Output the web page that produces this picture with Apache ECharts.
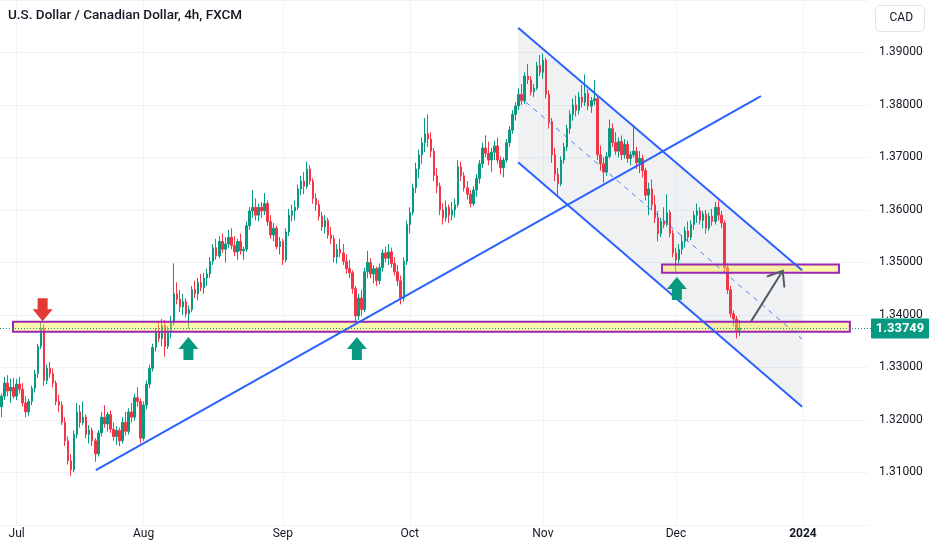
<!DOCTYPE html>
<html lang="en">
<head>
<meta charset="utf-8" />
<title>USD/CAD 4h</title>
<style>
  html, body { margin: 0; padding: 0; background: #fff; }
  #chart { width: 932px; height: 550px; }
</style>
</head>
<body>
<div id="chart"></div>
<script src="https://cdn.jsdelivr.net/npm/echarts@6/dist/echarts.min.js"></script>
<script>
// candles, one per half trading day, rows are [open, high, low, close]
const junBars = [
  [1.3225,1.3250,1.3205,1.3245],[1.3245,1.3282,1.3238,1.3270],[1.3270,1.3285,1.3245,1.3255],
  [1.3255,1.3278,1.3232,1.3262],[1.3262,1.3280,1.3240,1.3245]
];
const julBars = [
  [1.3245,1.3278,1.3238,1.3268],[1.3268,1.3282,1.3250,1.3258],[1.3258,1.3270,1.3225,1.3232],
  [1.3232,1.3245,1.3205,1.3215],[1.3215,1.3240,1.3208,1.3235],[1.3235,1.3265,1.3228,1.3260],
  [1.3260,1.3295,1.3252,1.3288],[1.3288,1.3345,1.3280,1.3340],[1.3340,1.3387,1.3335,1.3375],
  [1.3375,1.3382,1.3265,1.3275],[1.3275,1.3305,1.3268,1.3298],[1.3298,1.3310,1.3280,1.3288],
  [1.3288,1.3298,1.3262,1.3270],[1.3270,1.3275,1.3228,1.3235],[1.3235,1.3248,1.3215,1.3228],
  [1.3228,1.3235,1.3190,1.3195],[1.3195,1.3205,1.3150,1.3160],[1.3160,1.3168,1.3115,1.3122],
  [1.3122,1.3135,1.3093,1.3105],[1.3105,1.3180,1.3100,1.3172],[1.3172,1.3232,1.3165,1.3215],
  [1.3215,1.3228,1.3185,1.3195],[1.3195,1.3235,1.3190,1.3205],[1.3205,1.3210,1.3165,1.3172],
  [1.3172,1.3190,1.3155,1.3180],[1.3180,1.3185,1.3150,1.3160],[1.3160,1.3165,1.3120,1.3135],
  [1.3135,1.3180,1.3130,1.3175],[1.3175,1.3215,1.3168,1.3205],[1.3205,1.3228,1.3185,1.3192],
  [1.3192,1.3215,1.3178,1.3210],[1.3210,1.3218,1.3175,1.3182],[1.3182,1.3195,1.3160,1.3168],
  [1.3168,1.3188,1.3152,1.3180],[1.3180,1.3185,1.3150,1.3160],[1.3160,1.3205,1.3155,1.3195],
  [1.3195,1.3215,1.3170,1.3178],[1.3178,1.3222,1.3172,1.3215],[1.3215,1.3232,1.3195,1.3205],
  [1.3205,1.3250,1.3198,1.3242],[1.3242,1.3262,1.3225,1.3235],[1.3235,1.3240,1.3155,1.3165]
];
const augBars = [
  [1.3165,1.3235,1.3160,1.3228],[1.3228,1.3275,1.3220,1.3268],[1.3268,1.3305,1.3260,1.3298],
  [1.3298,1.3345,1.3292,1.3338],[1.3338,1.3375,1.3330,1.3368],[1.3368,1.3388,1.3348,1.3355],
  [1.3355,1.3392,1.3340,1.3380],[1.3380,1.3390,1.3320,1.3340],[1.3340,1.3378,1.3335,1.3370],
  [1.3370,1.3398,1.3355,1.3385],[1.3385,1.3498,1.3380,1.3440],[1.3440,1.3462,1.3420,1.3430],
  [1.3430,1.3448,1.3405,1.3415],[1.3415,1.3440,1.3400,1.3425],[1.3425,1.3432,1.3395,1.3402],
  [1.3402,1.3418,1.3373,1.3410],[1.3410,1.3455,1.3405,1.3448],[1.3448,1.3465,1.3432,1.3440],
  [1.3440,1.3470,1.3428,1.3462],[1.3462,1.3478,1.3445,1.3452],[1.3452,1.3480,1.3440,1.3470],
  [1.3470,1.3488,1.3455,1.3478],[1.3478,1.3510,1.3470,1.3502],[1.3502,1.3535,1.3495,1.3528],
  [1.3528,1.3545,1.3505,1.3512],[1.3512,1.3550,1.3508,1.3540],[1.3540,1.3555,1.3518,1.3525],
  [1.3525,1.3548,1.3500,1.3535],[1.3535,1.3562,1.3528,1.3548],[1.3548,1.3565,1.3525,1.3532],
  [1.3532,1.3550,1.3512,1.3520],[1.3520,1.3545,1.3505,1.3540],[1.3540,1.3555,1.3515,1.3522],
  [1.3522,1.3530,1.3505,1.3525],[1.3525,1.3578,1.3520,1.3570],[1.3570,1.3605,1.3562,1.3598],
  [1.3598,1.3638,1.3585,1.3605],[1.3605,1.3622,1.3580,1.3590],[1.3590,1.3612,1.3578,1.3605],
  [1.3605,1.3615,1.3585,1.3598],[1.3598,1.3632,1.3590,1.3612],[1.3612,1.3618,1.3570,1.3578],
  [1.3578,1.3590,1.3545,1.3552],[1.3552,1.3575,1.3540,1.3565],[1.3565,1.3570,1.3525,1.3530],
  [1.3530,1.3548,1.3515,1.3540]
];
const sepBars = [
  [1.3540,1.3545,1.3495,1.3505],[1.3505,1.3565,1.3500,1.3558],[1.3558,1.3602,1.3550,1.3590],
  [1.3590,1.3610,1.3578,1.3598],[1.3598,1.3618,1.3580,1.3605],[1.3605,1.3648,1.3600,1.3640],
  [1.3640,1.3665,1.3628,1.3655],[1.3655,1.3672,1.3630,1.3645],[1.3645,1.3692,1.3640,1.3678],
  [1.3678,1.3685,1.3648,1.3655],[1.3655,1.3660,1.3612,1.3622],[1.3622,1.3632,1.3598,1.3610],
  [1.3610,1.3618,1.3580,1.3588],[1.3588,1.3596,1.3560,1.3568],[1.3568,1.3590,1.3555,1.3580],
  [1.3580,1.3585,1.3545,1.3552],[1.3552,1.3568,1.3535,1.3545],[1.3545,1.3552,1.3500,1.3510],
  [1.3510,1.3535,1.3498,1.3525],[1.3525,1.3545,1.3510,1.3518],[1.3518,1.3535,1.3495,1.3502],
  [1.3502,1.3515,1.3478,1.3488],[1.3488,1.3505,1.3470,1.3480],[1.3480,1.3485,1.3440,1.3450],
  [1.3450,1.3455,1.3384,1.3398],[1.3398,1.3440,1.3390,1.3432],[1.3432,1.3448,1.3398,1.3410],
  [1.3410,1.3490,1.3405,1.3482],[1.3482,1.3522,1.3470,1.3500],[1.3500,1.3508,1.3470,1.3478],
  [1.3478,1.3495,1.3460,1.3488],[1.3488,1.3492,1.3455,1.3465],[1.3465,1.3498,1.3458,1.3490],
  [1.3490,1.3525,1.3482,1.3518],[1.3518,1.3530,1.3500,1.3508],[1.3508,1.3535,1.3495,1.3520],
  [1.3520,1.3528,1.3490,1.3498],[1.3498,1.3510,1.3475,1.3482],[1.3482,1.3495,1.3455,1.3465],
  [1.3465,1.3475,1.3420,1.3432],[1.3432,1.3510,1.3425,1.3502],[1.3502,1.3580,1.3495,1.3572]
];
const octBars = [
  [1.3572,1.3605,1.3555,1.3595],[1.3595,1.3650,1.3590,1.3642],[1.3642,1.3690,1.3632,1.3678],
  [1.3678,1.3715,1.3660,1.3705],[1.3705,1.3738,1.3688,1.3728],[1.3728,1.3775,1.3710,1.3745],
  [1.3745,1.3782,1.3720,1.3735],[1.3735,1.3748,1.3700,1.3712],[1.3712,1.3718,1.3655,1.3665],
  [1.3665,1.3680,1.3632,1.3645],[1.3645,1.3652,1.3590,1.3600],[1.3600,1.3612,1.3572,1.3585],
  [1.3585,1.3618,1.3578,1.3605],[1.3605,1.3610,1.3575,1.3590],[1.3590,1.3615,1.3580,1.3600],
  [1.3600,1.3622,1.3585,1.3610],[1.3610,1.3695,1.3605,1.3682],[1.3682,1.3692,1.3655,1.3665],
  [1.3665,1.3672,1.3635,1.3642],[1.3642,1.3655,1.3620,1.3630],[1.3630,1.3638,1.3605,1.3612],
  [1.3612,1.3645,1.3608,1.3638],[1.3638,1.3668,1.3625,1.3660],[1.3660,1.3695,1.3650,1.3688],
  [1.3688,1.3728,1.3680,1.3718],[1.3718,1.3742,1.3700,1.3708],[1.3708,1.3730,1.3685,1.3695],
  [1.3695,1.3718,1.3672,1.3710],[1.3710,1.3732,1.3695,1.3722],[1.3722,1.3738,1.3688,1.3695],
  [1.3695,1.3702,1.3668,1.3680],[1.3680,1.3700,1.3662,1.3695],[1.3695,1.3735,1.3690,1.3728],
  [1.3728,1.3760,1.3720,1.3752],[1.3752,1.3790,1.3745,1.3782],[1.3782,1.3805,1.3770,1.3798],
  [1.3798,1.3832,1.3790,1.3820],[1.3820,1.3840,1.3800,1.3808],[1.3808,1.3862,1.3802,1.3855],
  [1.3855,1.3878,1.3840,1.3848],[1.3848,1.3855,1.3818,1.3825],[1.3825,1.3840,1.3815,1.3832],
  [1.3832,1.3882,1.3828,1.3875],[1.3875,1.3895,1.3855,1.3862]
];
const novBars = [
  [1.3862,1.3898,1.3850,1.3885],[1.3885,1.3890,1.3812,1.3820],[1.3820,1.3828,1.3755,1.3768],
  [1.3768,1.3775,1.3690,1.3705],[1.3705,1.3718,1.3655,1.3668],[1.3668,1.3680,1.3628,1.3650],
  [1.3650,1.3702,1.3645,1.3695],[1.3695,1.3728,1.3688,1.3720],[1.3720,1.3762,1.3712,1.3755],
  [1.3755,1.3790,1.3745,1.3782],[1.3782,1.3812,1.3770,1.3800],[1.3800,1.3818,1.3778,1.3790],
  [1.3790,1.3825,1.3782,1.3815],[1.3815,1.3838,1.3795,1.3805],[1.3805,1.3858,1.3798,1.3822],
  [1.3822,1.3830,1.3790,1.3798],[1.3798,1.3815,1.3785,1.3808],[1.3808,1.3848,1.3800,1.3812],
  [1.3812,1.3818,1.3695,1.3705],[1.3705,1.3722,1.3675,1.3688],[1.3688,1.3700,1.3652,1.3672],
  [1.3672,1.3710,1.3665,1.3702],[1.3702,1.3772,1.3698,1.3755],[1.3755,1.3765,1.3720,1.3728],
  [1.3728,1.3748,1.3705,1.3712],[1.3712,1.3738,1.3700,1.3730],[1.3730,1.3742,1.3695,1.3705],
  [1.3705,1.3735,1.3698,1.3725],[1.3725,1.3732,1.3690,1.3698],[1.3698,1.3712,1.3685,1.3705],
  [1.3705,1.3762,1.3700,1.3712],[1.3712,1.3720,1.3678,1.3690],[1.3690,1.3712,1.3670,1.3698],
  [1.3698,1.3705,1.3662,1.3675],[1.3675,1.3680,1.3618,1.3628],[1.3628,1.3652,1.3590,1.3640],
  [1.3640,1.3658,1.3600,1.3610],[1.3610,1.3628,1.3575,1.3585],[1.3585,1.3598,1.3540,1.3555],
  [1.3555,1.3585,1.3548,1.3578],[1.3578,1.3605,1.3565,1.3572],[1.3572,1.3630,1.3568,1.3595],
  [1.3595,1.3600,1.3548,1.3555],[1.3555,1.3562,1.3510,1.3518]
];
const decBars = [
  [1.3518,1.3528,1.3482,1.3505],[1.3505,1.3535,1.3498,1.3525],[1.3525,1.3552,1.3515,1.3540],
  [1.3540,1.3568,1.3528,1.3560],[1.3560,1.3578,1.3540,1.3548],[1.3548,1.3580,1.3542,1.3572],
  [1.3572,1.3598,1.3562,1.3590],[1.3590,1.3612,1.3575,1.3598],[1.3598,1.3605,1.3572,1.3580],
  [1.3580,1.3598,1.3565,1.3592],[1.3592,1.3600,1.3555,1.3565],[1.3565,1.3595,1.3560,1.3588],
  [1.3588,1.3602,1.3570,1.3578],[1.3578,1.3615,1.3572,1.3605],[1.3605,1.3618,1.3580,1.3590],
  [1.3590,1.3598,1.3565,1.3575],[1.3575,1.3580,1.3480,1.3490],[1.3490,1.3498,1.3440,1.3448],
  [1.3448,1.3455,1.3395,1.3402],[1.3402,1.3408,1.3378,1.3392],[1.3392,1.3398,1.3355,1.3368],
  [1.3368,1.3390,1.3360,1.33749]
];

// drawings, in [bar index, price]
const supportZones = [[3.8, 280.5, 1.3387, 1.3368], [218.4, 276.9, 1.3496, 1.3480]];
const trendLine = [[31.2, 1.3104], [251.1, 1.3817]];
const channelTop = [[170.8, 1.3947], [264.7, 1.3485]];
const channelMid = [[170.8, 1.3818], [264.7, 1.3354]];
const channelBottom = [[170.8, 1.3691], [264.7, 1.3225]];
const sellMarks = [[13.6, 1.3388]];
const buyMarks = [[61.8, 1.3358], [117.5, 1.3358], [223.3, 1.3472]];
const targetArrow = [248.0, 1.3389, 258.3, 1.3484];

const priceTicks = { min: 1.30, max: 1.40, step: 0.01 };
const monthNames = ['Jan','Feb','Mar','Apr','May','Jun','Jul','Aug','Sep','Oct','Nov','Dec'];

// half-day slots on trading days, 28 Jun 2023 afternoon to 15 Jan 2024
const slots = [];
const day = new Date(Date.UTC(2023, 5, 28));
while (day.getTime() <= Date.UTC(2024, 0, 15)) {
  const wd = day.getUTCDay();
  if (wd !== 0 && wd !== 6) {
    const key = day.toISOString().slice(0, 10);
    slots.push(key + ' 00:00', key + ' 12:00');
  }
  day.setUTCDate(day.getUTCDate() + 1);
}
slots.shift();

const bars = [].concat(junBars, julBars, augBars, sepBars, octBars, novBars, decBars);
const candles = bars.map(b => [b[0], b[3], b[2], b[1]]);
const lastClose = bars[bars.length - 1][3];

const isMonthStart = (idx) =>
  idx > 0 && slots[idx].endsWith('00:00') && slots[idx].slice(5, 7) !== slots[idx - 1].slice(5, 7);

const UP = '#089981', DOWN = '#f23645', BLUE = '#2962ff', TEXT = '#131722', GRID = '#f0f3fa';

const chart = echarts.init(document.getElementById('chart'));

chart.setOption({
  animation: false,
  textStyle: { fontFamily: 'Roboto, "Noto Sans", sans-serif' },
  grid: { left: 0, right: 64, top: -2.75, bottom: 25.25 },
  xAxis: [{
    type: 'category',
    data: slots,
    boundaryGap: true,
    axisLine: { show: false },
    axisTick: { show: false },
    axisLabel: {
      interval: (idx) => isMonthStart(idx),
      margin: 3,
      color: TEXT,
      fontSize: 12,
      formatter: (val) => {
        const m = +val.slice(5, 7);
        return m === 1 ? '{y|' + val.slice(0, 4) + '}' : monthNames[m - 1];
      },
      rich: { y: { fontWeight: 'bold', color: TEXT, fontSize: 12 } }
    },
    splitLine: {
      show: true,
      interval: (idx) => isMonthStart(idx),
      alignWithLabel: true,
      lineStyle: { color: GRID, width: 1 }
    }
  }, {
    type: 'value',
    show: false,
    min: -0.5,
    max: slots.length - 0.5
  }],
  yAxis: {
    type: 'value',
    position: 'right',
    min: priceTicks.min,
    max: priceTicks.max,
    interval: priceTicks.step,
    axisLine: { show: false },
    axisTick: { show: false },
    axisLabel: {
      showMinLabel: false,
      showMaxLabel: false,
      margin: 11,
      color: TEXT,
      fontSize: 12,
      formatter: (v) => v.toFixed(5)
    },
    splitLine: { lineStyle: { color: GRID, width: 1 } }
  },
  graphic: [
    {
      type: 'text', left: 8, top: 9, z: 100,
      style: { text: 'U.S. Dollar / Canadian Dollar, 4h, FXCM', fill: TEXT,
               font: '500 13.5px Roboto, sans-serif' }
    },
    {
      type: 'rect', right: 7, top: 5, z: 100,
      shape: { width: 49, height: 26, r: 4 },
      style: { fill: '#fff', stroke: '#e0e3eb', lineWidth: 1 }
    },
    {
      type: 'text', right: 19, top: 12, z: 101,
      style: { text: 'CAD', fill: TEXT, font: '12px Roboto, sans-serif' }
    }
  ],
  series: [
    {
      // channel background
      type: 'custom',
      xAxisIndex: 1,
      z: 1,
      silent: true,
      data: [[channelTop[0][0], channelTop[1][0], channelTop[0][1], channelTop[1][1],
              channelBottom[0][1], channelBottom[1][1]]],
      renderItem: (params, api) => {
        const a = api.coord([api.value(0), api.value(2)]);
        const b = api.coord([api.value(1), api.value(3)]);
        const c = api.coord([api.value(1), api.value(5)]);
        const d = api.coord([api.value(0), api.value(4)]);
        return { type: 'polygon', shape: { points: [a, b, c, d] },
                 style: { fill: 'rgba(120,123,134,0.11)' } };
      }
    },
    {
      type: 'candlestick',
      name: 'USDCAD',
      z: 2,
      data: candles,
      barWidth: 2,
      itemStyle: { color: UP, color0: DOWN, borderColor: UP, borderColor0: DOWN, borderWidth: 1 }
    },
    {
      // support / resistance zones
      type: 'custom',
      xAxisIndex: 1,
      z: 3,
      silent: true,
      data: supportZones,
      renderItem: (params, api) => {
        const p1 = api.coord([api.value(0), api.value(2)]);
        const p2 = api.coord([api.value(1), api.value(3)]);
        return { type: 'rect',
                 shape: { x: p1[0], y: p1[1], width: p2[0] - p1[0], height: p2[1] - p1[1] },
                 style: { fill: 'rgba(255,235,59,0.42)', stroke: '#9c27b0', lineWidth: 2 } };
      }
    },
    { type: 'line', xAxisIndex: 1, z: 4, data: trendLine, symbol: 'none', silent: true,
      lineStyle: { color: BLUE, width: 2 } },
    { type: 'line', xAxisIndex: 1, z: 4, data: channelTop, symbol: 'none', silent: true,
      lineStyle: { color: BLUE, width: 2 } },
    { type: 'line', xAxisIndex: 1, z: 4, data: channelBottom, symbol: 'none', silent: true,
      lineStyle: { color: BLUE, width: 2 } },
    { type: 'line', xAxisIndex: 1, z: 4, data: channelMid, symbol: 'none', silent: true,
      lineStyle: { color: BLUE, width: 1, type: [5, 5], opacity: 0.8 } },
    {
      // up arrows under the lows
      type: 'custom', xAxisIndex: 1, z: 5, silent: true,
      data: buyMarks,
      renderItem: (params, api) => {
        const [x, y] = api.coord([api.value(0), api.value(1)]);
        return { type: 'polygon', style: { fill: UP },
                 shape: { points: [[x, y], [x + 10, y + 12], [x + 5, y + 12], [x + 5, y + 23],
                                   [x - 5, y + 23], [x - 5, y + 12], [x - 10, y + 12]] } };
      }
    },
    {
      // down arrow above the high
      type: 'custom', xAxisIndex: 1, z: 5, silent: true,
      data: sellMarks,
      renderItem: (params, api) => {
        const [x, y] = api.coord([api.value(0), api.value(1)]);
        return { type: 'polygon', style: { fill: '#e53935' },
                 shape: { points: [[x, y], [x + 10, y - 12], [x + 5, y - 12], [x + 5, y - 23],
                                   [x - 5, y - 23], [x - 5, y - 12], [x - 10, y - 12]] } };
      }
    },
    {
      // projected move arrow
      type: 'custom', xAxisIndex: 1, z: 5, silent: true,
      data: [targetArrow],
      renderItem: (params, api) => {
        const s = api.coord([api.value(0), api.value(1)]);
        const e = api.coord([api.value(2), api.value(3)]);
        const ang = Math.atan2(s[1] - e[1], s[0] - e[0]);
        const len = 16, spread = 0.66;
        const h1 = [e[0] + len * Math.cos(ang + spread), e[1] + len * Math.sin(ang + spread)];
        const h2 = [e[0] + len * Math.cos(ang - spread), e[1] + len * Math.sin(ang - spread)];
        const st = { stroke: '#555a64', lineWidth: 2, fill: null, lineCap: 'round' };
        return { type: 'group', children: [
          { type: 'polyline', shape: { points: [s, e] }, style: st },
          { type: 'polyline', shape: { points: [h1, e, h2] }, style: st }
        ] };
      }
    },
    {
      // last price line and its tag on the price scale
      type: 'custom', xAxisIndex: 1, z: 6, silent: true, clip: false,
      data: [[0, lastClose]],
      renderItem: (params, api) => {
        const y = Math.round(api.coord([0, api.value(1)])[1]) + 0.5;
        const cs = params.coordSys;
        const right = cs.x + cs.width;
        return { type: 'group', children: [
          { type: 'line', shape: { x1: cs.x, y1: y, x2: right + 3, y2: y },
            style: { stroke: UP, lineWidth: 1, lineDash: [1, 2] } },
          { type: 'rect', shape: { x: right + 3, y: y - 10, width: 58, height: 20, r: 1 },
            style: { fill: UP } },
          { type: 'text', style: { x: right + 32, y: y, text: lastClose.toFixed(5), fill: '#fff',
            font: 'bold 13px Roboto, sans-serif', align: 'center', verticalAlign: 'middle' } }
        ] };
      }
    }
  ]
});
</script>
</body>
</html>
